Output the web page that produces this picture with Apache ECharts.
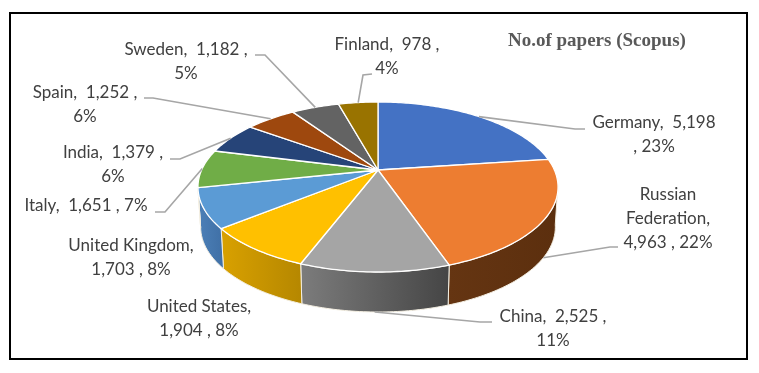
<!DOCTYPE html>
<html>
<head>
<meta charset="utf-8">
<style>
  html, body { margin: 0; padding: 0; background: #fff; }
  #main { width: 759px; height: 373px; }
</style>
<script src="https://cdn.jsdelivr.net/npm/echarts@6/dist/echarts.min.js"></script>
</head>
<body>
<div id="main"></div>
<script>
// data
var countries = ['Germany', 'Russian Federation', 'China', 'United States', 'United Kingdom', 'Italy', 'India', 'Spain', 'Sweden', 'Finland'];
var papers = [5198, 4963, 2525, 1904, 1703, 1651, 1379, 1252, 1182, 978];
var labels = [
    'Germany,  5,198\n, 23%',
    'Russian\nFederation,\n4,963 , 22%',
    'China,  2,525 ,\n11%',
    'United States,\n1,904 , 8%',
    'United Kingdom,\n1,703 , 8%',
    'Italy,  1,651 , 7%',
    'India,  1,379 ,\n6%',
    'Spain,  1,252 ,\n6%',
    'Sweden,  1,182 ,\n5%',
    'Finland,  978 ,\n4%'
];

// colours
var topColors = ['#4472C4', '#ED7D31', '#A5A5A5', '#FFC000', '#5B9BD5', '#70AD47', '#264478', '#9E480E', '#636363', '#997300'];
var wallColors = [
    ['#2f5597', '#2f5597'],
    ['#653512', '#5c2f0e'],
    ['#7c7c7c', '#454545'],
    ['#d9a100', '#b58700'],
    ['#4c80b8', '#3f6fa5'],
    ['#4e7a32', '#4e7a32'],
    ['#1b3054', '#1b3054'],
    ['#6f320a', '#6f320a'],
    ['#454545', '#454545'],
    ['#6b5100', '#6b5100']
];

// label centres and leader elbows, one per slice
var labelPos = [[654, 135], [668, 219], [553, 329], [199, 319], [131, 258], [86, 206], [113, 165], [85, 105], [186, 62], [387, 57]];
var elbows = [
    [[575, 129], [585, 129]],
    [[610, 247], [618, 247]],
    [[480, 322], [492, 322]],
    null,
    null,
    [[165, 212], [155, 212]],
    [[180, 159], [170, 159]],
    [[153, 98], [144, 98]],
    [[265, 55], [255, 55]],
    [[363, 75], [372, 74]]
];

// 3d pie projection
var cx = 378, cy = 170;   // apex of the pie
var radius = 176.4, tilt = 81.6, persp = 0.2, depth = 40, bottomScale = 0.985;
var wallFrom = 100, wallTo = 258;   // degrees clockwise from the back of the pie

var total = papers.reduce(function (a, b) { return a + b; }, 0);
var cumulative = [0];
papers.forEach(function (v, i) { cumulative.push(cumulative[i] + v); });

function project(deg) {
    var t = deg * Math.PI / 180;
    var u = Math.sin(t), v = -Math.cos(t);
    var w = 1 - persp * v;
    return [cx + radius * u / w, cy + tilt * v / w];
}
function projectBottom(deg) {
    var p = project(deg);
    return [cx + (p[0] - cx) * bottomScale, p[1] + depth];
}
function arc(fn, a0, a1) {
    var pts = [];
    var n = Math.max(2, Math.ceil(Math.abs(a1 - a0)));
    for (var i = 0; i <= n; i++) {
        pts.push(fn(a0 + (a1 - a0) * i / n));
    }
    return pts;
}

function renderSlice(params, api) {
    var i = params.dataIndex;
    var a0 = cumulative[i] / total * 360;
    var a1 = (cumulative[i] + api.value(0)) / total * 360;
    var mid = (a0 + a1) / 2;
    var children = [];

    // side wall, only the front part shows
    var w0 = Math.max(a0, wallFrom), w1 = Math.min(a1, wallTo);
    if (w1 > w0) {
        children.push({
            type: 'polygon',
            z2: 1,
            shape: { points: arc(project, w0, w1).concat(arc(projectBottom, w1, w0)) },
            style: {
                fill: new echarts.graphic.LinearGradient(0, 0, 1, 0, [
                    { offset: 0, color: wallColors[i][i < 2 ? 1 : 1] },
                    { offset: 1, color: wallColors[i][0] }
                ].reverse().map(function (s, k) { return { offset: k, color: s.color }; })),
                stroke: '#f4efe2',
                lineWidth: 1
            }
        });
    }

    // top face
    children.push({
        type: 'polygon',
        z2: 2,
        shape: { points: [[cx, cy]].concat(arc(project, a0, a1)) },
        style: { fill: topColors[i], stroke: '#fff', lineWidth: 1.3, lineJoin: 'round' }
    });

    // leader line
    if (elbows[i]) {
        var front = mid > wallFrom && mid < wallTo && i < 3;
        var start = front ? projectBottom(mid) : project(mid);
        children.push({
            type: 'polyline',
            z2: 3,
            shape: { points: [start].concat(elbows[i]) },
            style: { fill: null, stroke: '#a6a6a6', lineWidth: 1.6 }
        });
    }

    // data label
    children.push({
        type: 'text',
        z2: 4,
        style: {
            text: labels[i],
            x: labelPos[i][0],
            y: labelPos[i][1],
            align: 'center',
            verticalAlign: 'middle',
            fill: '#404040',
            font: '17px Lato',
            lineHeight: 24
        }
    });
    return { type: 'group', children: children };
}

var myChart = echarts.init(document.getElementById('main'));
var option = {
    animation: false,
    backgroundColor: '#fff',
    title: {
        text: 'No.of papers (Scopus)',
        left: 508,
        top: 32,
        padding: 0,
        textStyle: {
            color: '#595959',
            fontFamily: 'Liberation Serif',
            fontWeight: 'bold',
            fontSize: 19
        }
    },
    graphic: [{
        type: 'rect',
        shape: { x: 10, y: 13, width: 737, height: 346 },
        style: { fill: 'none', stroke: '#000', lineWidth: 2 }
    }],
    series: [{
        type: 'custom',
        coordinateSystem: 'none',
        renderItem: renderSlice,
        data: papers.map(function (v, i) { return { name: countries[i], value: [v] }; })
    }]
};
myChart.setOption(option);
</script>
</body>
</html>
